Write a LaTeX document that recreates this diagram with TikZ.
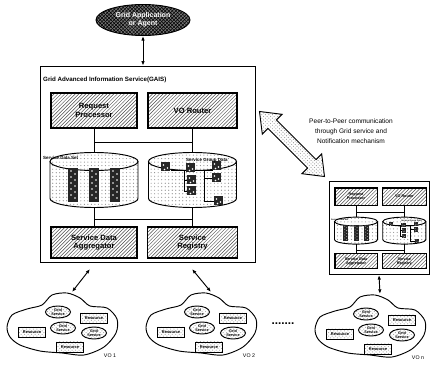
\documentclass[tikz,border=0pt]{standalone}
\usepackage{fontspec}
\setmainfont{Liberation Sans}
\usetikzlibrary{shapes.geometric, arrows.meta, positioning, patterns, calc}
\newcommand{\px}{0.03cm}

\tikzset{
  unit/.style={draw, line width=0.9pt, pattern=north east lines, pattern color=black!70,
    minimum width=86*\px, minimum height=35*\px, inner sep=0pt, align=center,
    font=\fontsize{6.5}{7.5}\selectfont\bfseries},
  storelbl/.style={anchor=west, inner sep=0pt, font=\fontsize{3.8}{4}\selectfont\bfseries},
  svc/.style={ellipse, draw, thick, pattern=crosshatch dots, pattern color=black!35,
    minimum width=25*\px, minimum height=12*\px, inner sep=0pt, align=center,
    font=\fontsize{3.2}{3.4}\selectfont\bfseries},
  res/.style={draw, thick, pattern=crosshatch dots, pattern color=black!35,
    minimum width=27*\px, minimum height=10*\px, inner sep=0pt,
    font=\fontsize{3.4}{4}\selectfont\bfseries},
  dblarrow/.style={{Latex[length=4pt,width=3pt]}-{Latex[length=4pt,width=3pt]}, thick},
  volbl/.style={inner sep=0pt, font=\fontsize{4.5}{5}\selectfont},
  % data store drawn as a cylinder
  datastore/.pic={
    \fill[pattern=dots, pattern color=black!45] (-44,-18.5) -- (-44,18.5) arc (180:0:44 and 9)
      -- (44,-18.5) arc (0:-180:44 and 9) -- cycle;
    \draw[thick] (-44,-18.5) -- (-44,18.5) arc (180:0:44 and 9) -- (44,-18.5);
    \draw[thick] (0,-18.5) ellipse (44 and 9);
    \coordinate (-top) at (0,-27.5);
    \coordinate (-bot) at (0,27.5);
  },
  % virtual organisation cloud
  vo/.pic={
    \draw[thick, fill=white] plot[smooth cycle] coordinates {(-55,2) (-50,-10) (-35,-16)
      (-20,-20) (-10,-30) (5,-32) (18,-27) (28,-19) (45,-17) (55,-6) (54,8) (42,22)
      (22,30) (0,28) (-22,26) (-42,20) (-52,12)};
    \node[svc] (-gs1) at (-4,-13) {Grid\\Service};
    \node[svc] (-gs2) at (1,3) {Grid\\Service};
    \node[svc] (-gs3) at (32,8) {Grid\\Service};
    \node[res] (-r1) at (32,-7) {Resource};
    \node[res] (-r2) at (-30,7) {Resource};
    \node[res] (-r3) at (8,22) {Resource};
    \node[volbl] (-lbl) at (48,31) {#1};
    \coordinate (-top) at (10,-33);
  }
}

% inner parts of a GAIS, origin at top left of Request Processor
\newcommand{\gaiscore}{
  \node[unit] (rp) at (43,17.5) {Request\\Processor};
  \node[unit, minimum width=89*\px] (vr) at (141.5,17.5) {VO Router};
  \pic (sds) at (43,87) {datastore};
  \pic (sgd) at (141.5,87) {datastore};
  \foreach \bx in {-26,-5,16} {
    \fill[black!85] (43+\bx,75) rectangle ++(10,34);
    \foreach \dy in {78,84,...,104} {
      \fill[white] (43+\bx+3,\dy) circle (0.8);
      \fill[white] (43+\bx+7,\dy+3) circle (0.8);
    }
  }
  \begin{scope}[shift={(141.5,87)}]
    \draw (-22,-10) -- (20,-10);
    \draw (-8,-10) -- (-8,11) -- (-5,11);
    \draw (-8,0) -- (-5,0);
    \draw (12,-10) -- (12,-2) -- (20,-2);
    \draw (12,-2) -- (12,21) -- (22,21);
    \foreach \sx/\sy in {-27/-13, -2/-12, -1/0, -1/11, 24/-14, 24/-2, 26/21} {
      \fill[black!85] (\sx-4.5,\sy-4.5) rectangle ++(9,9);
      \fill[white] (\sx-2,\sy-2) circle (0.8) (\sx+2,\sy+1) circle (0.8) (\sx-1,\sy+2.5) circle (0.8);
    }
  \end{scope}
  \node[storelbl] (sdslbl) at (-8,65) {Service Data Set};
  \node[storelbl] (sgdlbl) at (135,67) {Service Group Data};
  \node[unit, minimum height=31*\px] (sda) at (43,149.5) {Service Data\\Aggregator};
  \node[unit, minimum width=90*\px, minimum height=31*\px] (sr) at (141.5,149.5) {Service\\Registry};
  \coordinate (busup) at (0,49);
  \coordinate (buslo) at (0,126);
  \draw (rp.south) -- (sds-top);
  \draw (vr.south) -- (sgd-top);
  \draw (rp.south |- busup) -- (vr.south |- busup);
  \draw (sds-bot) -- (sda.north);
  \draw (sgd-bot) -- (sr.north);
  \draw (sda.north |- buslo) -- (sr.north |- buslo);
}

\begin{document}
\begin{tikzpicture}[x=\px, y=-\px]
  \useasboundingbox (0,0) rectangle (437,366);

  \node[ellipse, draw, thick, preaction={fill=black!55}, pattern=crosshatch, pattern color=black,
    minimum width=94*\px, minimum height=31*\px, inner sep=0pt, align=center, text=white,
    font=\fontsize{6}{7}\selectfont\bfseries] (app) at (143,20) {Grid Application\\or Agent};

  \node[draw, minimum width=215*\px, minimum height=196*\px] (gais) at (147.5,164) {};
  \node[anchor=west, inner sep=0pt, font=\fontsize{5.3}{6}\selectfont\bfseries] (title) at (43,80)
    {Grid Advanced Information Service(GAIS)};
  \draw[dblarrow] (app.south) -- (app.south |- gais.north);

  \begin{scope}[shift={(51,93)}]
    \gaiscore
  \end{scope}

  % peer GAIS
  \node[draw, thick, minimum width=100*\px, minimum height=93*\px] (peer) at (379,228) {};
  \begin{scope}[shift={(335,188)}, scale=0.49, transform shape, name prefix=m-]
    \gaiscore
  \end{scope}

  % hollow double arrow between the two GAIS
  \begin{scope}[shift={(292,144)}, rotate=-45]
    \draw[thick, pattern=crosshatch dots, pattern color=black!40]
      (-46,0) -- (-28,-14) -- (-28,-6) -- (28,-6) -- (28,-14) -- (46,0)
      -- (28,14) -- (28,6) -- (-28,6) -- (-28,14) -- cycle;
  \end{scope}
  \node[align=center, inner sep=0pt, font=\fontsize{5.6}{8.5}\selectfont] (p2ptxt) at (351,131)
    {Peer-to-Peer communication\\through Grid service and\\Notification mechanism};

  \pic (vo1) at (62,325) {vo={VO 1}};
  \pic (vo2) at (201,325) {vo={VO 2}};
  \pic (von) at (370,327) {vo={VO n}};
  \node[font=\bfseries] (dots) at (283,324) {.......};

  \coordinate (d1) at (90,269);
  \coordinate (d2) at (192,269);
  \draw[dblarrow] (d1) -- (vo1-top);
  \draw[dblarrow] (d2) -- (vo2-top);
  \draw[dblarrow] (peer.south) -- (von-top);
\end{tikzpicture}
\end{document}
